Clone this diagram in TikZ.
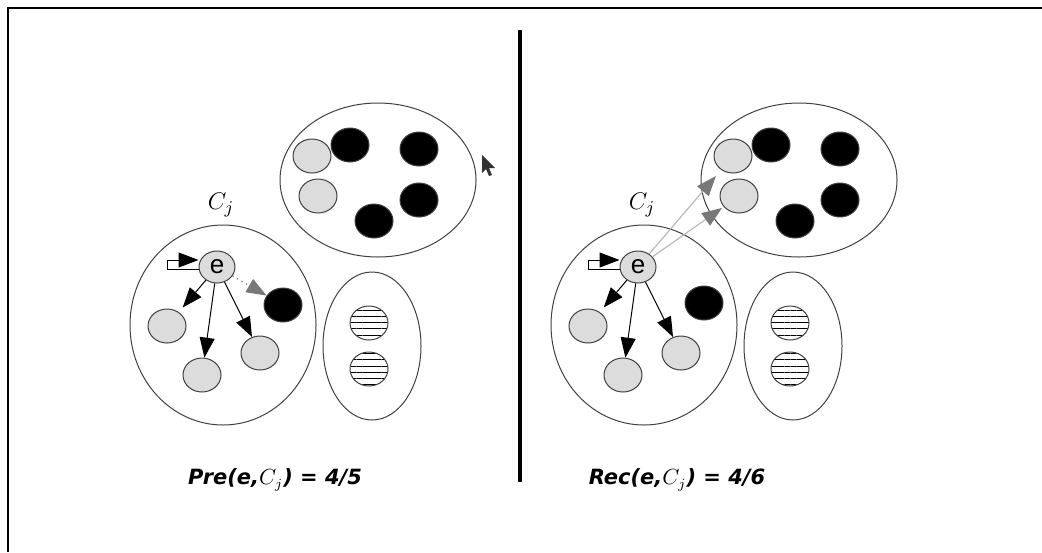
\documentclass[tikz,border=0pt]{standalone}
\usepackage{fontspec}
\setsansfont{Liberation Sans}
\newfontfamily\lblfont{DejaVu Sans}
\definecolor{docgray}{RGB}{220, 220, 220}
\definecolor{tipgray}{RGB}{120, 120, 120}
\definecolor{linkgray}{RGB}{185, 185, 185}
\usepackage{tikz}
\usetikzlibrary{arrows.meta, positioning, shapes.geometric, patterns.meta}

\begin{document}
\begin{tikzpicture}[x=0.5pt, y=-0.5pt,
    doc/.style={draw=black!75, ellipse, inner sep=0pt, line width=0.5pt,
      minimum width=19pt, minimum height=17pt},
    rel/.style={doc, fill=docgray},
    irr/.style={doc, fill=black},
    oth/.style={doc, pattern={Lines[angle=0, distance=3.1pt, line width=0.4pt]}},
    grp/.style={draw=black!75, ellipse, inner sep=0pt, line width=0.5pt},
    ent/.style={rel, minimum width=18pt, minimum height=16pt,
      font=\sffamily\fontsize{13}{13}\selectfont},
    hit/.style={-{Triangle[length=10pt, width=7.5pt]}, line width=0.5pt},
    miss/.style={-{Triangle[length=10pt, width=7.5pt]}, tipgray, dotted, line width=0.6pt},
    link/.style={-{Triangle[length=10pt, width=7.5pt, color=tipgray, fill=tipgray]},
      linkgray, line width=0.6pt},
    grpname/.style={font=\fontsize{13}{13}\selectfont},
    score/.style={font=\lblfont\bfseries\itshape\fontsize{10.5}{12}\selectfont}]
    \useasboundingbox (0,0) rectangle (1042,552);
    \draw[line width=0.6pt] (1042,8) -- (8,8) -- (8,552);
    \draw[line width=2pt] (520,30) -- (520,482);

    % Precision
    \node[grp, minimum width=98pt, minimum height=77pt] (Ltop) at (378,180) {};
    \node[grp, minimum width=93pt, minimum height=100pt] (Lcj) at (223,325) {};
    \node[grp, minimum width=49pt, minimum height=74pt] (Loth) at (372,346) {};
    \node[grpname] at (221,205) {$C_j$};
    \node[rel] (Lta) at (312,156) {};
    \node[rel] (Ltb) at (318,196) {};
    \node[irr] (Ltc) at (350,145) {};
    \node[irr] (Ltd) at (419,149) {};
    \node[irr] (Lte) at (419,200) {};
    \node[irr] (Ltf) at (374,221) {};
    \node[oth] (Loa) at (369,323) {};
    \node[oth] (Lob) at (369,369) {};
    \node[ent] (Le) at (217,267) {e};
    \node[rel] (Lga) at (167,326) {};
    \node[rel] (Lgb) at (202,375) {};
    \node[rel] (Lgc) at (260,353) {};
    \node[irr] (Lbk) at (283,305) {};
    \draw[hit] ([yshift=-1pt]Le.west) -- ++(-31,0) |- ([yshift=3.5pt]Le.west);
    \draw[hit, shorten >=3pt] (Le) -- (Lga);
    \draw[hit] (Le) -- (Lgb);
    \draw[hit] (Le) -- (Lgc);
    \draw[miss] (Le) -- (Lbk);
    \node[score] (Lscore) at (275,480) {Pre(e,$C_j$) = 4/5};
    \fill[black!80] (482,155) -- (482,173) -- (486,169) -- (489,176) -- (492,175)
      -- (489,168) -- (495,168) -- cycle;

    % Recall
    \node[grp, minimum width=98pt, minimum height=77pt] (Rtop) at (799,180) {};
    \node[grp, minimum width=93pt, minimum height=100pt] (Rcj) at (644,325) {};
    \node[grp, minimum width=49pt, minimum height=74pt] (Roth) at (793,346) {};
    \node[grpname] at (642,205) {$C_j$};
    \node[rel] (Rta) at (733,156) {};
    \node[rel] (Rtb) at (739,196) {};
    \node[irr] (Rtc) at (771,145) {};
    \node[irr] (Rtd) at (840,149) {};
    \node[irr] (Rte) at (840,200) {};
    \node[irr] (Rtf) at (795,221) {};
    \node[oth] (Roa) at (790,323) {};
    \node[oth] (Rob) at (790,369) {};
    \node[ent] (Re) at (638,267) {e};
    \node[rel] (Rga) at (588,326) {};
    \node[rel] (Rgb) at (623,375) {};
    \node[rel] (Rgc) at (681,353) {};
    \node[irr] (Rbk) at (704,303) {};
    \draw[hit] ([yshift=-1pt]Re.west) -- ++(-31,0) |- ([yshift=3.5pt]Re.west);
    \draw[hit, shorten >=3pt] (Re) -- (Rga);
    \draw[hit] (Re) -- (Rgb);
    \draw[hit] (Re) -- (Rgc);
    \draw[link, shorten >=4pt] (Re) -- (Rta);
    \draw[link, shorten >=1pt] (Re) -- (Rtb);
    \node[score] (Rscore) at (677,480) {Rec(e,$C_j$) = 4/6};
  \end{tikzpicture}
\end{document}
